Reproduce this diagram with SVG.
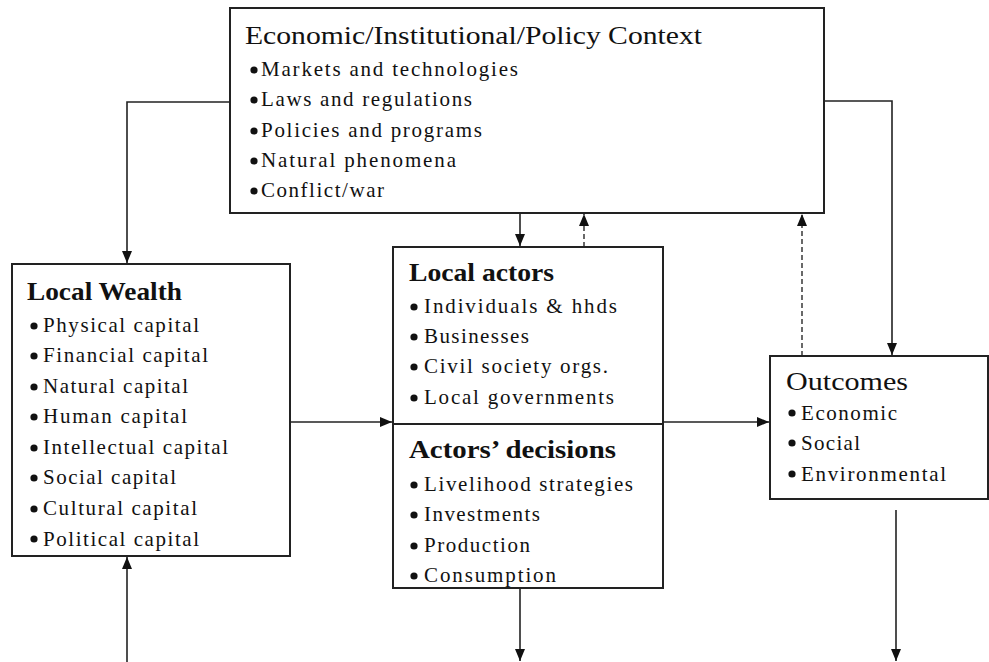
<svg xmlns="http://www.w3.org/2000/svg" width="989" height="662" viewBox="0 0 989 662">
<style>
.box{fill:#fff;stroke:#222;stroke-width:2}
.h{font-family:"Liberation Serif","Times New Roman",serif;font-size:26px;fill:#111}
.hb{font-weight:bold}
.t{font-family:"Liberation Serif","Times New Roman",serif;font-size:21px;fill:#111}
.b{fill:#111}
.c{fill:none;stroke:#222;stroke-width:1.6}
.d{fill:none;stroke:#444;stroke-width:1.6;stroke-dasharray:5 3}
</style>
<defs>
<marker id="ah" markerUnits="userSpaceOnUse" markerWidth="14" markerHeight="14" viewBox="0 0 14 14" refX="13" refY="7" orient="auto">
<path d="M1,2 L13,7 L1,12 Z" fill="#111"/>
</marker>
</defs>
<rect width="989" height="662" fill="#fff"/>
<g id="connectors">
<path class="c" d="M230,102 H127 V263" marker-end="url(#ah)"/>
<path class="c" d="M127,662 V557" marker-end="url(#ah)"/>
<path class="c" d="M520,213 V246" marker-end="url(#ah)"/>
<path class="d" d="M584,247 V214" marker-end="url(#ah)"/>
<path class="c" d="M290,422 H392" marker-end="url(#ah)"/>
<path class="c" d="M663,422 H769" marker-end="url(#ah)"/>
<path class="c" d="M824,101 H892 V355" marker-end="url(#ah)"/>
<path class="d" d="M802,356 V214" marker-end="url(#ah)"/>
<path class="c" d="M520,588 V661" marker-end="url(#ah)"/>
<path class="c" d="M896,510 V661" marker-end="url(#ah)"/>
</g>
<g id="context">
<rect class="box" x="230" y="8" width="594" height="205"/>
<text class="h" x="245" y="44" textLength="457" lengthAdjust="spacingAndGlyphs">Economic/Institutional/Policy  Context</text>
<circle class="b" cx="254" cy="70" r="3.6"/><text class="t" x="261" y="76" textLength="257" lengthAdjust="spacing">Markets and technologies</text>
<circle class="b" cx="254" cy="100" r="3.6"/><text class="t" x="261" y="106" textLength="211" lengthAdjust="spacing">Laws and regulations</text>
<circle class="b" cx="254" cy="131" r="3.6"/><text class="t" x="261" y="137" textLength="221" lengthAdjust="spacing">Policies  and programs</text>
<circle class="b" cx="254" cy="161" r="3.6"/><text class="t" x="261" y="167" textLength="195" lengthAdjust="spacing">Natural phenomena</text>
<circle class="b" cx="254" cy="191" r="3.6"/><text class="t" x="261" y="197" textLength="123" lengthAdjust="spacing">Conflict/war</text>
</g>
<g id="local-wealth">
<rect class="box" x="12" y="264" width="278" height="292"/>
<text class="h hb" x="27" y="300" textLength="155" lengthAdjust="spacingAndGlyphs">Local Wealth</text>
<circle class="b" cx="34" cy="326" r="3.6"/><text class="t" x="43" y="332" textLength="156" lengthAdjust="spacing">Physical capital</text>
<circle class="b" cx="34" cy="356" r="3.6"/><text class="t" x="43" y="362" textLength="165" lengthAdjust="spacing">Financial capital</text>
<circle class="b" cx="34" cy="387" r="3.6"/><text class="t" x="43" y="393" textLength="145" lengthAdjust="spacing">Natural capital</text>
<circle class="b" cx="34" cy="417" r="3.6"/><text class="t" x="43" y="423" textLength="144" lengthAdjust="spacing">Human capital</text>
<circle class="b" cx="34" cy="448" r="3.6"/><text class="t" x="43" y="454" textLength="185" lengthAdjust="spacing">Intellectual capital</text>
<circle class="b" cx="34" cy="478" r="3.6"/><text class="t" x="43" y="484" textLength="133" lengthAdjust="spacing">Social capital</text>
<circle class="b" cx="34" cy="509" r="3.6"/><text class="t" x="43" y="515" textLength="154" lengthAdjust="spacing">Cultural capital</text>
<circle class="b" cx="34" cy="539" r="3.6"/><text class="t" x="43" y="546" textLength="156" lengthAdjust="spacing">Political capital</text>
</g>
<g id="local-actors">
<rect class="box" x="393" y="247" width="270" height="177"/>
<text class="h hb" x="409" y="281" textLength="145" lengthAdjust="spacingAndGlyphs">Local actors</text>
<circle class="b" cx="414" cy="307" r="3.6"/><text class="t" x="424" y="313" textLength="193" lengthAdjust="spacing">Individuals  &amp; hhds</text>
<circle class="b" cx="414" cy="337" r="3.6"/><text class="t" x="424" y="343" textLength="105" lengthAdjust="spacing">Businesses</text>
<circle class="b" cx="414" cy="367" r="3.6"/><text class="t" x="424" y="373" textLength="184" lengthAdjust="spacing">Civil society orgs.</text>
<circle class="b" cx="414" cy="398" r="3.6"/><text class="t" x="424" y="404" textLength="190" lengthAdjust="spacing">Local governments</text>
</g>
<g id="actors-decisions">
<rect class="box" x="393" y="424" width="270" height="164"/>
<text class="h hb" x="409" y="458" textLength="207" lengthAdjust="spacingAndGlyphs">Actors’ decisions</text>
<circle class="b" cx="414" cy="485" r="3.6"/><text class="t" x="424" y="491" textLength="209" lengthAdjust="spacing">Livelihood strategies</text>
<circle class="b" cx="414" cy="515" r="3.6"/><text class="t" x="424" y="521" textLength="116" lengthAdjust="spacing">Investments</text>
<circle class="b" cx="414" cy="546" r="3.6"/><text class="t" x="424" y="552" textLength="106" lengthAdjust="spacing">Production</text>
<circle class="b" cx="414" cy="576" r="3.6"/><text class="t" x="424" y="582" textLength="132" lengthAdjust="spacing">Consumption</text>
</g>
<g id="outcomes">
<rect class="box" x="770" y="356" width="218" height="143"/>
<text class="h" x="786" y="390" textLength="122" lengthAdjust="spacingAndGlyphs">Outcomes</text>
<circle class="b" cx="792" cy="413" r="3.6"/><text class="t" x="801" y="420" textLength="96" lengthAdjust="spacing">Economic</text>
<circle class="b" cx="792" cy="443" r="3.6"/><text class="t" x="801" y="450" textLength="59" lengthAdjust="spacing">Social</text>
<circle class="b" cx="792" cy="474" r="3.6"/><text class="t" x="801" y="481" textLength="145" lengthAdjust="spacing">Environmental</text>
</g>
</svg>
